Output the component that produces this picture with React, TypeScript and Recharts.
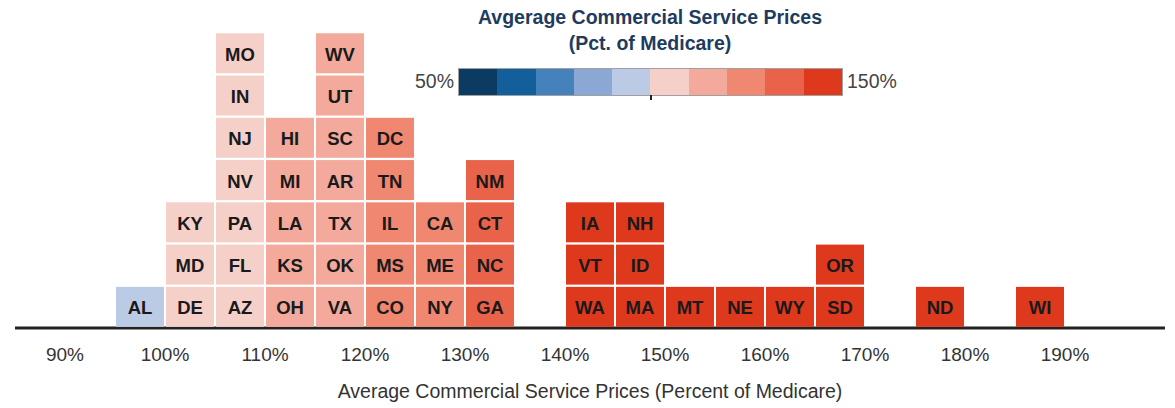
import { ScatterChart, Scatter, XAxis, YAxis } from 'recharts';

// bin centres (percent of Medicare), each bin is 5 points wide
const binCenters = [97.5, 102.5, 107.5, 112.5, 117.5, 122.5, 127.5, 132.5, 142.5, 147.5, 152.5, 157.5, 162.5, 167.5, 177.5, 187.5];

// states stacked in each bin, bottom to top
const binStates = [
  ['AL'],
  ['DE', 'MD', 'KY'],
  ['AZ', 'FL', 'PA', 'NV', 'NJ', 'IN', 'MO'],
  ['OH', 'KS', 'LA', 'MI', 'HI'],
  ['VA', 'OK', 'TX', 'AR', 'SC', 'UT', 'WV'],
  ['CO', 'MS', 'IL', 'TN', 'DC'],
  ['NY', 'ME', 'CA'],
  ['GA', 'NC', 'CT', 'NM'],
  ['WA', 'VT', 'IA'],
  ['MA', 'ID', 'NH'],
  ['MT'],
  ['NE'],
  ['WY'],
  ['SD', 'OR'],
  ['ND'],
  ['WI'],
];

const xTicks = [90, 100, 110, 120, 130, 140, 150, 160, 170, 180, 190];

// colour scale 50% .. 150%, 10 steps
const legendColors = ['#0b3a62', '#135f9b', '#4581bb', '#8aa8d3', '#bccbe5', '#f5d0c9', '#f3aa9c', '#f08770', '#e9634a', '#de381d'];
const legendMin = 50;
const legendStep = 10;

const colorFor = (v: number) => {
  const i = Math.max(0, Math.min(legendColors.length - 1, Math.floor((v - legendMin) / legendStep)));
  return legendColors[i];
};

const tiles = binCenters.flatMap((x, b) =>
  binStates[b].map((state, level) => ({ x, y: level + 0.5, state, color: colorFor(x) }))
);

const Tile = (props: any) => {
  const { cx, cy, payload } = props;
  return (
    <g>
      <rect x={cx - 24} y={cy - 20} width={48} height={40} fill={payload.color} />
      <text
        x={cx}
        y={cy + 1}
        textAnchor="middle"
        dominantBaseline="central"
        fontSize={18.5}
        fontWeight="bold"
        fill="#1a1a1a"
      >
        {payload.state}
      </text>
    </g>
  );
};

export default function App() {
  return (
    <div
      style={{
        position: 'absolute',
        left: 0,
        top: 0,
        width: 1175,
        height: 408,
        background: '#fff',
        fontFamily: '"Liberation Sans", Arial, sans-serif',
      }}
    >
      <ScatterChart width={1175} height={408} margin={{ top: 11, right: 10, bottom: 10, left: 15 }}>
        <XAxis
          type="number"
          dataKey="x"
          domain={[85, 200]}
          ticks={xTicks}
          tickFormatter={(v) => `${v}%`}
          axisLine={{ stroke: '#222', strokeWidth: 3 }}
          tickLine={false}
          tickSize={6}
          tickMargin={14}
          tick={{ fill: '#333', fontSize: 19 }}
          height={70}
          label={{
            value: 'Average Commercial Service Prices (Percent of Medicare)',
            position: 'insideBottom',
            offset: 0,
            fill: '#333',
            fontSize: 19.5,
          }}
        />
        <YAxis type="number" dataKey="y" domain={[0, 7.5]} hide />
        <Scatter data={tiles} shape={Tile} isAnimationActive={false} />
      </ScatterChart>

      {/* colour legend */}
      <div
        style={{
          position: 'absolute',
          left: 450,
          top: 4,
          width: 400,
          textAlign: 'center',
          fontWeight: 'bold',
          fontSize: 19.5,
          lineHeight: '26px',
          color: '#1d3c5e',
        }}
      >
        <div>Avgerage Commercial Service Prices</div>
        <div>(Pct. of Medicare)</div>
      </div>
      <div
        style={{
          position: 'absolute',
          left: 353,
          top: 69,
          width: 101,
          textAlign: 'right',
          fontSize: 19.5,
          lineHeight: '24px',
          color: '#444',
        }}
      >
        {legendMin}%
      </div>
      <div
        style={{
          position: 'absolute',
          left: 847,
          top: 69,
          fontSize: 19.5,
          lineHeight: '24px',
          color: '#444',
        }}
      >
        {legendMin + legendStep * legendColors.length}%
      </div>
      <div
        style={{
          position: 'absolute',
          left: 458,
          top: 68,
          width: 385,
          height: 28,
          display: 'flex',
          boxSizing: 'border-box',
          border: '1px solid #a0a0a0',
        }}
      >
        {legendColors.map((c) => (
          <div key={c} style={{ flex: 1, background: c }} />
        ))}
      </div>
      <div style={{ position: 'absolute', left: 650, top: 95, width: 2, height: 5, background: '#222' }} />
    </div>
  );
}
